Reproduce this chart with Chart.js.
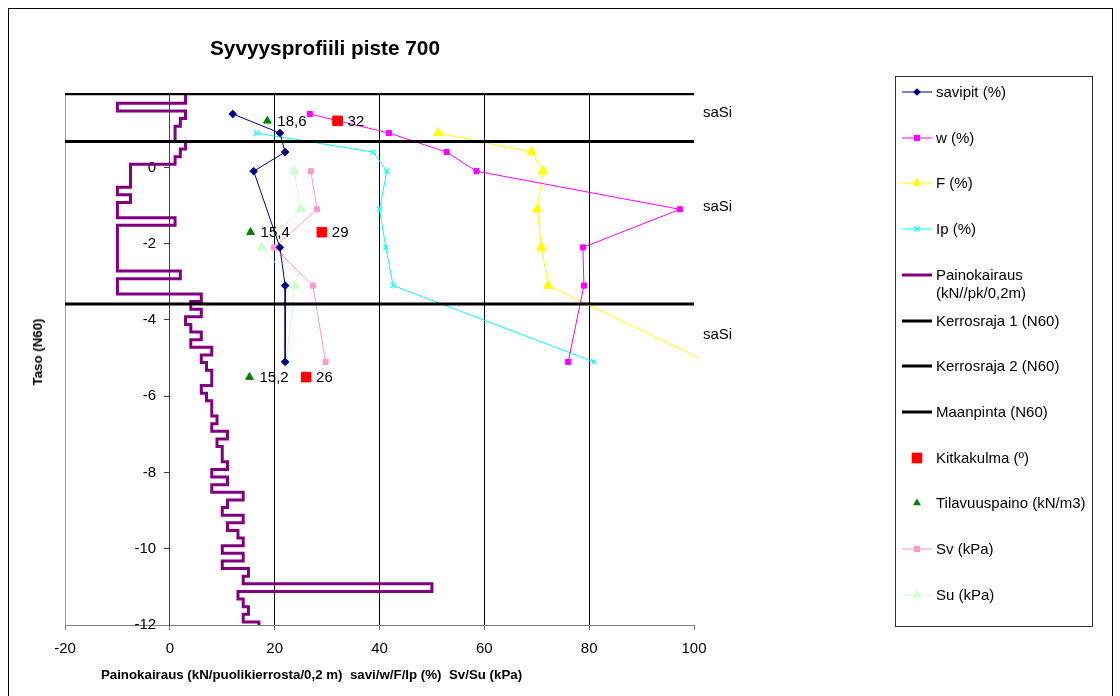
<!DOCTYPE html>
<html lang="fi">
<head>
<meta charset="utf-8">
<title>Syvyysprofiili piste 700</title>
<script src="https://cdn.jsdelivr.net/npm/chart.js@4.4.1/dist/chart.umd.min.js"></script>
<style>
    html, body { margin: 0; padding: 0; background: #fff; }
    body { width: 1120px; height: 696px; position: relative; overflow: hidden;
           font-family: Arial, "Liberation Sans", sans-serif; color: #000; }
    #kehys { position: absolute; left: 8px; top: 8px; width: 1103px; height: 700px; border: 1px solid #000; }
    #kaavio { position: absolute; left: 0; top: 0; }
    #otsikko { position: absolute; left: 0; top: 36px; width: 650px; text-align: center;
               font-size: 20.8px; line-height: 24px; font-weight: bold; }
    #xOtsikko { position: absolute; left: 0; top: 667px; width: 623px; text-align: center;
                font-size: 13.3px; line-height: 16px; font-weight: bold; white-space: pre; }
    #yOtsikko { position: absolute; left: 38px; top: 352px; font-size: 13.3px; line-height: 16px;
                font-weight: bold; white-space: nowrap; transform: translate(-50%, -50%) rotate(-90deg); }
    #selite { position: absolute; left: 895px; top: 76px; width: 196px; height: 549px; border: 1px solid #333; }
    #selite .rivi { position: absolute; left: 0; width: 196px; font-size: 15px; line-height: 18px; }
    #selite svg { position: absolute; left: 6px; top: 0; }
    #selite span { position: absolute; left: 40px; top: 0; white-space: nowrap; }
</style>
</head>
<body>
<div id="kehys"></div>
<canvas id="kaavio" width="1120" height="696"></canvas>
<div id="otsikko">Syvyysprofiili piste 700</div>
<div id="xOtsikko">Painokairaus (kN/puolikierrosta/0,2 m)  savi/w/F/Ip (%)  Sv/Su (kPa)</div>
<div id="yOtsikko">Taso (N60)</div>
<div id="selite"></div>
<script>
// Painokairaus: jakson yläpinnan taso (N60) ja lukema, 0,2 m välein
const kairausTaso = [1.93, 1.68, 1.48, 1.28, 1.08, 0.88, 0.68, 0.48, 0.28, 0.08,
    -0.12, -0.32, -0.52, -0.72, -0.92, -1.12, -1.32, -1.52, -1.72, -1.92,
    -2.12, -2.32, -2.52, -2.72, -2.92, -3.12, -3.32, -3.52, -3.72, -3.92,
    -4.12, -4.32, -4.52, -4.72, -4.92, -5.12, -5.32, -5.52, -5.72, -5.92,
    -6.12, -6.32, -6.52, -6.72, -6.92, -7.12, -7.32, -7.52, -7.72, -7.92,
    -8.12, -8.32, -8.52, -8.72, -8.92, -9.12, -9.32, -9.52, -9.72, -9.92,
    -10.12, -10.32, -10.52, -10.72, -10.92, -11.12, -11.32, -11.52, -11.72, -11.92];
const kairausArvo = [3, -10, 3, 2, 1, 1, 3, 2, 1, -7.5,
    -7.5, -7.5, -10, -7.5, -10, -10, 1, -10, -10, -10,
    -10, -10, -10, 2, -10, -10, 6, 4, 6, 3,
    4, 6, 4, 8, 6, 7, 8, 8, 6, 7,
    8, 8, 9, 8, 11, 9, 10, 10, 11, 8,
    11, 8, 14, 11, 10, 14, 11, 13, 14, 10,
    14, 10, 15, 14, 50, 13, 14, 15, 14, 17];
const kairausPohja = -12.12;

// Laboratoriotulokset näytetasoittain
const savipitTaso = [1.4, 0.9, 0.4, -0.1, -2.1, -3.1, -5.1];
const savipitArvo = [12, 21, 22, 16, 21, 22, 22];

const wTaso = [1.4, 0.9, 0.4, -0.1, -1.1, -2.1, -3.1, -5.1];
const wArvo = [26.7, 41.8, 52.8, 58.5, 97.3, 78.8, 79, 76];

const fTaso = [0.9, 0.4, -0.1, -1.1, -2.1, -3.1, -5.1];
const fArvo = [51.2, 69, 71.2, 70.1, 70.9, 72.2, 102.5];

const ipTaso = [0.9, 0.4, -0.1, -1.1, -2.1, -3.1, -5.1];
const ipArvo = [16.5, 38.8, 41.4, 40, 41.2, 42.6, 80.9];

const svTaso = [-0.1, -1.1, -2.1, -3.1, -5.1];
const svArvo = [26.9, 28.1, 19.9, 27.3, 29.7];

const suTaso = [-0.1, -1.1, -2.1, -3.1, -5.1];
const suArvo = [23.7, 25, 17.6, 23.9, 22.2];

// Kerroskohtaiset arvot
const kerrosTaso = [1.22, -1.7, -5.5];
const kitkakulma = [32, 29, 26];
const tilavuuspaino = [18.6, 15.4, 15.2];

// Kerrosrajat ja maanpinta (N60)
const kerrosraja1 = 0.68;
const kerrosraja2 = -3.58;
const maanpinta = 1.93;

// Maalajinimet kerroksittain
const maalajit = ['saSi', 'saSi', 'saSi'];
const maalajiTaso = [1.43, -1.04, -4.4];

// Akselit
const xMin = -20, xMax = 100, xVali = 20;
const yMin = -12, yMax = 1.95, yVali = 2;

const fontti = 'Arial, "Liberation Sans", sans-serif';

const pisteet = (xs, ys) => xs.map((x, i) => ({ x, y: ys[i] }));
const vaakaviiva = (taso) => [{ x: xMin, y: taso }, { x: xMax, y: taso }];

// Sarjojen tyylit, samat kuvaajassa ja selitteessä
const sarjat = [
    { nimi: 'savipit (%)', data: pisteet(savipitArvo, savipitTaso), vari: '#000080', viiva: 1, merkki: 'rectRot', koko: 3.8 },
    { nimi: 'w (%)', data: pisteet(wArvo, wTaso), vari: '#FF00FF', viiva: 1, merkki: 'rect', koko: 3.6 },
    { nimi: 'F (%)', data: pisteet(fArvo, fTaso), vari: '#FFFF00', viiva: 1, merkki: 'triangle', koko: 5.5,
      clip: { left: 0, top: 0, right: 6, bottom: 0 } },
    { nimi: 'Ip (%)', data: pisteet(ipArvo, ipTaso), vari: '#00FFFF', viiva: 1, merkki: 'crossRot', koko: 3.5 },
    { nimi: 'Painokairaus<br>(kN//pk/0,2m)',
      data: pisteet(kairausArvo, kairausTaso).concat([{ x: kairausArvo[kairausArvo.length - 1], y: kairausPohja }]),
      vari: '#800080', viiva: 3, merkki: null, porras: 'after' },
    { nimi: 'Kerrosraja 1 (N60)', data: vaakaviiva(kerrosraja1), vari: '#000000', viiva: 3, merkki: null },
    { nimi: 'Kerrosraja 2 (N60)', data: vaakaviiva(kerrosraja2), vari: '#000000', viiva: 3, merkki: null },
    { nimi: 'Maanpinta (N60)', data: vaakaviiva(maanpinta), vari: '#000000', viiva: 3, merkki: null },
    { nimi: 'Kitkakulma (º)', data: pisteet(kitkakulma, kerrosTaso), vari: '#FF0000', viiva: 0, merkki: 'rect', koko: 6.8, arvot: true },
    { nimi: 'Tilavuuspaino (kN/m3)', data: pisteet(tilavuuspaino, kerrosTaso), vari: '#008000', viiva: 0, merkki: 'triangle', koko: 4.5, arvot: true },
    { nimi: 'Sv (kPa)', data: pisteet(svArvo, svTaso), vari: '#FF99CC', viiva: 1, merkki: 'rect', koko: 3.6 },
    { nimi: 'Su (kPa)', data: pisteet(suArvo, suTaso), vari: '#CCFFCC', viiva: 1, merkki: 'triangle', koko: 5.2 }
];

// Piirtojärjestys: mustat rajat päällimmäisinä, sitten merkit, kairaus alimpana
const jarjestys = {
    'Kerrosraja 1 (N60)': 0, 'Kerrosraja 2 (N60)': 0, 'Maanpinta (N60)': 0,
    'Kitkakulma (º)': 1, 'Tilavuuspaino (kN/m3)': 1
};

const datasets = sarjat.map(s => ({
    label: s.nimi,
    data: s.data,
    showLine: s.viiva > 0,
    borderColor: s.vari,
    backgroundColor: s.vari,
    borderWidth: s.viiva,
    pointStyle: s.merkki || 'circle',
    pointRadius: s.merkki ? s.koko : 0,
    pointBorderWidth: s.merkki === 'crossRot' ? 1.2 : 1,
    pointBorderColor: s.vari,
    pointBackgroundColor: s.vari,
    stepped: s.porras || false,
    clip: s.clip || 0,
    order: s.nimi in jarjestys ? jarjestys[s.nimi] : 2,
    arvot: s.arvot || false
}));

// Kitkakulman ja tilavuuspainon lukuarvot merkin oikealle puolelle
const arvoTekstit = {
    id: 'arvoTekstit',
    afterDatasetsDraw(chart) {
        const ctx = chart.ctx;
        ctx.save();
        ctx.font = `15px ${fontti}`;
        ctx.fillStyle = '#000';
        ctx.textAlign = 'left';
        ctx.textBaseline = 'middle';
        chart.data.datasets.forEach((ds, i) => {
            if (!ds.arvot) return;
            chart.getDatasetMeta(i).data.forEach((p, j) => {
                ctx.fillText(String(ds.data[j].x).replace('.', ','), p.x + 10, p.y + 1);
            });
        });
        ctx.restore();
    }
};

// Maalajinimet piirtoalueen oikealle puolelle
const maalajiTekstit = {
    id: 'maalajiTekstit',
    afterDraw(chart) {
        const { ctx, chartArea, scales } = chart;
        ctx.save();
        ctx.font = `15px ${fontti}`;
        ctx.fillStyle = '#000';
        ctx.textAlign = 'left';
        ctx.textBaseline = 'middle';
        maalajit.forEach((nimi, i) => {
            ctx.fillText(nimi, chartArea.right + 9, scales.y.getPixelForValue(maalajiTaso[i]));
        });
        ctx.restore();
    }
};

Chart.defaults.font.family = fontti;
Chart.defaults.font.size = 15;
Chart.defaults.color = '#000';

const xViivanVari = (ctx) => {
    const v = ctx.tick ? ctx.tick.value : null;
    if (v === xMin) return '#a0a0a0';
    if (v === 0 || v === xMax) return 'rgba(0,0,0,0)';
    return '#000000';
};

new Chart(document.getElementById('kaavio'), {
    type: 'scatter',
    data: { datasets },
    options: {
        responsive: false,
        animation: false,
        events: [],
        layout: { padding: { left: 65, right: 426, top: 93, bottom: 28 } },
        plugins: {
            legend: { display: false },
            tooltip: { enabled: false }
        },
        scales: {
            x: {
                type: 'linear',
                min: xMin,
                max: xMax,
                ticks: { stepSize: xVali, padding: 10, font: { size: 15 }, callback: v => String(v) },
                grid: { color: xViivanVari, tickColor: '#808080', tickLength: 5, lineWidth: 1 },
                border: { display: true, color: '#808080', width: 1 }
            },
            y: {
                type: 'linear',
                axis: 'y',
                position: { x: 0 },
                min: yMin,
                max: yMax,
                ticks: { display: false, stepSize: yVali, includeBounds: false },
                grid: { drawOnChartArea: false, drawTicks: true, tickLength: 5, color: '#404040' },
                border: { display: true, color: '#404040', width: 1 }
            },
            yTeksti: {
                type: 'linear',
                axis: 'y',
                position: { x: -2.6 },
                min: yMin,
                max: yMax,
                ticks: { stepSize: yVali, includeBounds: false, font: { size: 15 }, callback: v => String(v) },
                grid: { display: false },
                border: { display: false }
            }
        }
    },
    plugins: [arvoTekstit, maalajiTekstit]
});

// Selite: viivanäyte, merkki ja nimi
const merkkiSvg = (s) => {
    const cx = 15, cy = 9;
    const r = s.koko;
    switch (s.merkki) {
        case 'rectRot':
            return `<polygon points="${cx},${cy - r} ${cx + r},${cy} ${cx},${cy + r} ${cx - r},${cy}" fill="${s.vari}"/>`;
        case 'rect': {
            const a = r * Math.SQRT1_2 + 0.5;
            return `<rect x="${cx - a}" y="${cy - a}" width="${2 * a}" height="${2 * a}" fill="${s.vari}"/>`;
        }
        case 'triangle': {
            const h = r * 0.866;
            return `<polygon points="${cx},${cy - r} ${cx + h},${cy + r / 2} ${cx - h},${cy + r / 2}" fill="${s.vari}"/>`;
        }
        case 'crossRot': {
            const a = r * Math.SQRT1_2;
            return `<path d="M${cx - a} ${cy - a}L${cx + a} ${cy + a}M${cx - a} ${cy + a}L${cx + a} ${cy - a}" stroke="${s.vari}" stroke-width="1.2"/>`;
        }
        default:
            return '';
    }
};

const selite = document.getElementById('selite');
sarjat.forEach((s, i) => {
    const rivi = document.createElement('div');
    rivi.className = 'rivi';
    rivi.style.top = `${(15 + i * 45.7 - 9).toFixed(1)}px`;
    const viiva = s.viiva > 0
        ? `<line x1="0" y1="9" x2="30" y2="9" stroke="${s.vari}" stroke-width="${s.viiva}"/>`
        : '';
    rivi.innerHTML = `<svg width="30" height="18">${viiva}${merkkiSvg(s)}</svg><span>${s.nimi}</span>`;
    selite.appendChild(rivi);
});
</script>
</body>
</html>
